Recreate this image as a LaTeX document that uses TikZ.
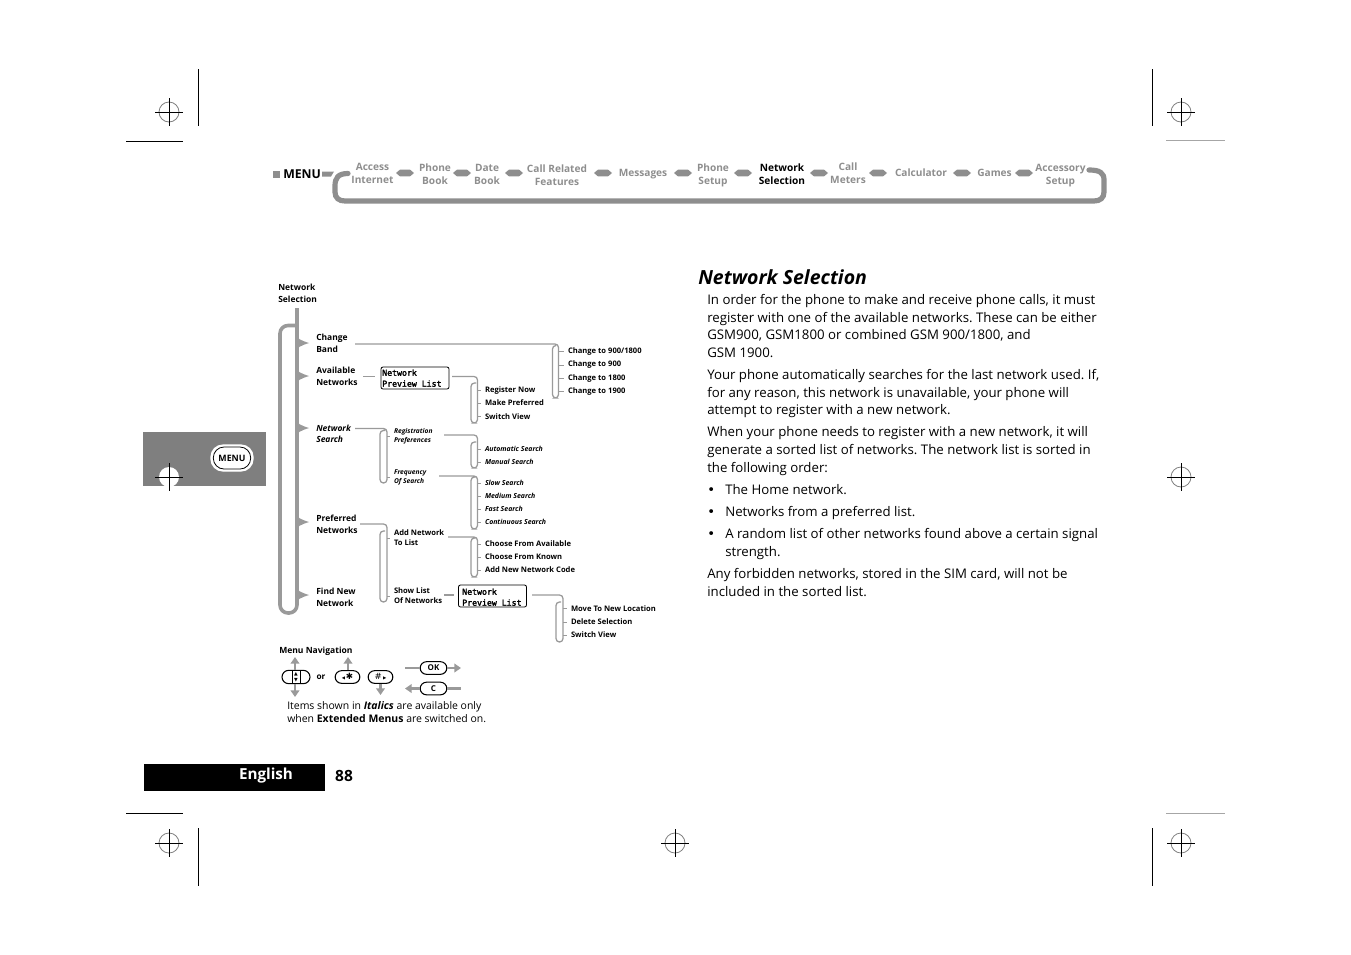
\documentclass[tikz,border=0pt]{standalone}
\usepackage{fontspec}
\usetikzlibrary{arrows.meta}
\setmainfont{Open Sans}
\newfontfamily\monof[FakeBold=2.5]{DejaVu Sans Mono}
\newfontfamily\symf{DejaVu Sans}
\definecolor{hg}{HTML}{8E8E8E}
\definecolor{tg}{HTML}{9A9A9A}
\definecolor{bk}{HTML}{7F7F7F}
\newcommand\st{\strut}
\frenchspacing
\tikzset{
  lab/.style={inner sep=0pt,anchor=west,align=left},
  hd/.style={inner sep=0pt,align=center,text=hg,font=\fontsize{7.6pt}{10pt}\selectfont\bfseries},
  lev1/.style={lab,font=\fontsize{6.35pt}{9.2pt}\selectfont\bfseries},
  lev1i/.style={lab,font=\fontsize{6.35pt}{8.4pt}\selectfont\bfseries\itshape},
  lev2/.style={lab,font=\fontsize{5.7pt}{8pt}\selectfont\bfseries,outer sep=3pt},
  lev2i/.style={lab,font=\fontsize{5.0pt}{7pt}\selectfont\bfseries\itshape,outer sep=3pt},
  leaf/.style={lab,font=\fontsize{5.7pt}{8pt}\selectfont\bfseries,outer sep=3pt},
  leafi/.style={lab,font=\fontsize{5.2pt}{8pt}\selectfont\bfseries\itshape,outer sep=3pt},
  body/.style={lab,font=\fontsize{9.93pt}{13.3pt}\selectfont},
  conn/.style={draw=tg,line width=0.95pt,rounded corners=2.6pt},
  tick/.style={draw=tg,line width=0.7pt},
  trunk/.style={draw=tg,line width=2.7pt,rounded corners=6pt},
  previewbox/.style={draw=black,line width=0.6pt,rounded corners=1.5pt,inner sep=0pt,minimum width=51pt,minimum height=16.5pt},
  previewtext/.style={lab,font=\monof\fontsize{6.15pt}{8.2pt}\selectfont},
  cross/.style={line width=0.75pt,draw=black},
  crossc/.style={line width=0.6pt,draw=gray},
  navarrow/.style={draw=tg,line width=1.9pt,-{Triangle[length=5pt,width=6.5pt]}},
  navline/.style={draw=tg,line width=1.9pt},
  key/.style={draw=black,line width=0.8pt,rounded corners=4.8pt,inner sep=0pt,minimum height=9.5pt,font=\fontsize{6pt}{7pt}\selectfont\bfseries},
  crop/.style={line width=0.75pt,draw=black},
  cropg/.style={line width=0.75pt,draw=gray!70},
}
\newcommand\crossmark[2]{%
  \draw[crossc] (#1,#2) circle[radius=10];
  \draw[cross] (#1-14,#2)--(#1+14,#2) (#1,#2-14)--(#1,#2+14);}
\newcommand\pill[1]{\fill[hg] (#1-9,173)--(#1-5,169.6)--(#1+5,169.6)--(#1+9,173)--(#1+5,176.4)--(#1-5,176.4)--cycle;}
\newcommand\chev[1]{\fill[tg] (296,#1-8) .. controls (297,#1-4.5) and (301,#1-2.5) .. (309,#1) .. controls (301,#1+2.5) and (297,#1+4.5) .. (296,#1+8) -- cycle;}
\begin{document}
\begin{tikzpicture}[x=0.75pt,y=-0.75pt]
\useasboundingbox (0,0) rectangle (1351,954);
% crop marks
\draw[crop] (198,69)--(198,126) (1152,69)--(1152,126) (198,828)--(198,886) (1152,828)--(1152,886)
  (126,141)--(183,141) (126,813)--(183,813);
\draw[cropg] (1166,140)--(1225,140) (1166,813)--(1225,813);
\crossmark{169}{112}\crossmark{1181}{112}\crossmark{1181}{477}\crossmark{169}{843}\crossmark{675}{843}\crossmark{1181}{843}
% side tab
\fill[bk] (143,432) rectangle (266,486);
\fill[white] (169,477) circle[radius=10];
\draw[cross] (155,477)--(183,477) (169,463)--(169,491);
\node[draw=white,line width=0.9pt,fill=white,rounded corners=9pt,minimum width=31.5pt,minimum height=19.5pt,inner sep=0pt] (sidebtn) at (232,458) {};
\node[draw=black,line width=0.6pt,rounded corners=8pt,minimum width=28pt,minimum height=16.5pt,inner sep=0pt,font=\fontsize{6.6pt}{8pt}\selectfont\bfseries] (sidemenu) at (232,458) {MENU};
% header
\fill[hg] (273,171) rectangle (280,177.5);
\node[inner sep=0pt,anchor=west,font=\fontsize{9.2pt}{11pt}\selectfont\bfseries] (menu) at (283,174) {MENU};
\fill[hg] (322,171.5) -- (334,171.5) -- (331,176.5) -- (322,176.5) -- cycle;
\draw[hg,line width=3.9pt,line cap=round] (348,173.5) .. controls (338,173.5) and (335,178) .. (335,186) -- (335,192) .. controls (335,198) and (339,201) .. (345,201) -- (1094,201) .. controls (1100,201) and (1104,198) .. (1104,192) -- (1104,180) .. controls (1104,173) and (1100,170) .. (1089,170);
\foreach \c in {405,462,514,603,683,743,819,878,962,1024}{\pill{\c}}
\node[hd] (h1) at (372.5,174.5) {\st Access\\\st Internet};
\node[hd] (h2) at (435,175) {\st Phone\\\st Book};
\node[hd] (h3) at (487,175) {\st Date\\\st Book};
\node[hd] (h4) at (557,176) {\st Call Related\\\st Features};
\node[hd] (h5) at (643,173.5) {\st Messages};
\node[hd] (h6) at (713,175) {\st Phone\\\st Setup};
\node[hd,text=black] (h7) at (782,175) {\st Network\\\st Selection};
\node[hd] (h8) at (848,174.5) {\st Call\\\st Meters};
\node[hd] (h9) at (921,173.5) {\st Calculator};
\node[hd] (h10) at (994.5,173.5) {\st Games};
\node[hd] (h11) at (1060.5,175) {\st Accessory\\\st Setup};
% page footer
\fill[black] (144,764) rectangle (325,791);
\node[inner sep=0pt,text=white,font=\fontsize{11.4pt}{13pt}\selectfont\bfseries] (lang) at (266,776) {English};
\node[inner sep=0pt,font=\fontsize{11.6pt}{13pt}\selectfont\bfseries] (pg) at (344,775.5) {88};
% tree labels
\node[lev1] (root) at (278,294) {\st Network\\\st Selection};
\node[lev1] (chg) at (316,344) {\st Change\\\st Band};
\node[lev1] (avail) at (316,377) {\st Available\\\st Networks};
\node[lev1i] (nsearch) at (316,434.5) {\st Network\\\st Search};
\node[lev1] (pref) at (316,525) {\st Preferred\\\st Networks};
\node[lev1] (find) at (316,598) {\st Find New\\\st Network};
% trunk
\coordinate (rootdown) at (297,308);
\coordinate (trunkend) at (297,598);
\draw[trunk,line cap=butt] (rootdown) -- (trunkend);
\draw[trunk] (297,325.5) -- (280,325.5) -- (280,613) -- (297,613) -- (trunkend);
\foreach \y in {343,376,428,522,595}{\chev{\y}}
% preview boxes
\node[previewbox] (box1) at (415,378) {};
\node[previewtext] (box1t) at (382,379) {\st Network\\\st Preview List};
\node[previewbox] (box2) at (492.5,596) {};
\node[previewtext] (box2t) at (462,598) {\st Network\\\st Preview List};
% second level
\node[lev2i] (reg) at (390,436) {\st Registration\\\st Preferences};
\node[lev2i] (freq) at (390,477) {\st Frequency\\\st Of Search};
\node[lev2] (addnet) at (390,538.5) {\st Add Network\\\st To List};
\node[lev2] (showl) at (390,596.5) {\st Show List\\\st Of Networks};
% leaves
\node[leaf] (a1) at (564,351.5) {Change to 900/1800};
\node[leaf] (a2) at (564,365) {Change to 900};
\node[leaf] (a3) at (564,378.5) {Change to 1800};
\node[leaf] (a4) at (564,391.5) {Change to 1900};
\node[leaf] (b1) at (481,390.5) {Register Now};
\node[leaf] (b2) at (481,403) {Make Preferred};
\node[leaf] (b3) at (481,416.5) {Switch View};
\node[leafi] (c1) at (481,449) {Automatic Search};
\node[leafi] (c2) at (481,462) {Manual Search};
\node[leafi] (d1) at (481,483) {Slow Search};
\node[leafi] (d2) at (481,496) {Medium Search};
\node[leafi] (d3) at (481,509) {Fast Search};
\node[leafi] (d4) at (481,522) {Continuous Search};
\node[leaf] (e1) at (481,544) {Choose From Available};
\node[leaf] (e2) at (481,557) {Choose From Known};
\node[leaf] (e3) at (481,570) {Add New Network Code};
\node[leaf] (f1) at (567,608.5) {Move To New Location};
\node[leaf] (f2) at (567,622) {Delete Selection};
\node[leaf] (f3) at (567,635) {Switch View};
% connector end points
\coordinate (chg-o) at (355,344);
\coordinate (avail-o) at (363,376.5);
\coordinate (box1-i) at (375,376.5);
\coordinate (box1-o) at (452,376.5);
\coordinate (ns-o) at (355,428.5);
\coordinate (reg-o) at (444,435);
\coordinate (freq-o) at (439,476);
\coordinate (pref-o) at (360,524);
\coordinate (add-o) at (448,537);
\coordinate (show-o) at (444,595);
\coordinate (box2-i) at (454,595);
\coordinate (box2-o) at (532,595);
% brackets
\draw[conn] (chg-o) -- (558.5,344) -- (558.5,398) -- (552.5,398) -- (552.5,345.5) -- (556,345.5);
\foreach \n in {a1,a2,a3,a4}{\draw[tick] (558.5,0 |- \n.west) -- (\n.west);}
\draw[conn] (avail-o) -- (box1-i);
\draw[conn] (box1-o) -- (477.5,376.5) -- (477.5,423) -- (471,423) -- (471,383) -- (476,383);
\foreach \n in {b1,b2,b3}{\draw[tick] (477.5,0 |- \n.west) -- (\n.west);}
\draw[conn] (ns-o) -- (387,428.5) -- (387,483) -- (380,483) -- (380,430.5) -- (385,430.5);
\foreach \n in {reg,freq}{\draw[tick] (387,0 |- \n.west) -- (\n.west);}
\draw[conn] (reg-o) -- (477.5,435) -- (477.5,468) -- (471,468) -- (471,442) -- (476,442);
\foreach \n in {c1,c2}{\draw[tick] (477.5,0 |- \n.west) -- (\n.west);}
\draw[conn] (freq-o) -- (477.5,476) -- (477.5,529) -- (471,529) -- (471,477) -- (476,477);
\foreach \n in {d1,d2,d3,d4}{\draw[tick] (477.5,0 |- \n.west) -- (\n.west);}
\draw[conn] (pref-o) -- (387,524) -- (387,602) -- (380,602) -- (380,531) -- (385,531);
\foreach \n in {addnet,showl}{\draw[tick] (387,0 |- \n.west) -- (\n.west);}
\draw[conn] (add-o) -- (477.5,537) -- (477.5,577) -- (471,577) -- (471,538) -- (476,538);
\foreach \n in {e1,e2,e3}{\draw[tick] (477.5,0 |- \n.west) -- (\n.west);}
\draw[conn] (show-o) -- (box2-i);
\draw[conn] (box2-o) -- (563,595) -- (563,642) -- (556,642) -- (556,602) -- (561,602);
\foreach \n in {f1,f2,f3}{\draw[tick] (563,0 |- \n.west) -- (\n.west);}
% navigation legend
\node[lab,font=\fontsize{6.4pt}{8pt}\selectfont\bfseries] (navt) at (279,651) {Menu Navigation};
\node[key,minimum width=21pt,minimum height=10pt,rounded corners=5pt] (k1) at (296,677) {};
\draw[line width=0.6pt] (292,671)--(292,683) (300,671)--(300,683);
\node[inner sep=0pt,font=\symf\fontsize{3.6pt}{4.2pt}\selectfont,align=center] (k1a) at (296,677) {▲\\▼};
\node[inner sep=0pt,font=\fontsize{6.2pt}{8pt}\selectfont\bfseries] (orw) at (321,677) {or};
\node[key,minimum width=18.5pt] (k2) at (347.5,677) {};
\node[inner sep=0pt,font=\symf\fontsize{3.2pt}{4pt}\selectfont] (k2a) at (347.5,677) {◀\,\fontsize{6.5pt}{7pt}\selectfont ✱};
\node[key,minimum width=18.5pt] (k3) at (380.5,677) {};
\node[inner sep=0pt,font=\symf\fontsize{6.5pt}{7pt}\selectfont] (k3a) at (380.5,677) {\#\,\fontsize{3.2pt}{4pt}\selectfont▶};
\node[key,minimum width=20pt] (ok) at (433.5,668) {OK};
\node[key,minimum width=20pt] (cc) at (433.5,688.5) {C};
\coordinate (u1) at (295,657); \coordinate (d1e) at (295,697);
\coordinate (u2) at (348,657); \coordinate (d3e) at (380.5,695);
\coordinate (oks) at (405,668); \coordinate (oke) at (461,668);
\coordinate (cs) at (461,688.5); \coordinate (ce) at (405,688.5);
\draw[navarrow] (k1.north -| u1) -- (u1);
\draw[navarrow] (k1.south -| d1e) -- (d1e);
\draw[navarrow] (k2.north -| u2) -- (u2);
\draw[navarrow] (k3.south -| d3e) -- (d3e);
\draw[navline] (oks) -- (ok.west);
\draw[navarrow] (ok.east) -- (oke);
\draw[navline] (cc.east) -- (cs);
\draw[navarrow] (cc.west) -- (ce);
\node[lab,font=\fontsize{7.85pt}{9.8pt}\selectfont] (note) at (287,713) {\st Items shown in \textbf{\textit{Italics}} are available only\\\st when \textbf{Extended Menus} are switched on.};
% body text
\node[inner sep=0pt,anchor=west,font=\fontsize{14.6pt}{15pt}\selectfont\bfseries\itshape] (title) at (698,277) {Network Selection};
\node[body] (p1) at (707,327.5) {\st In order for the phone to make and receive phone calls, it must\\\st register with one of the available networks. These can be either\\\st GSM900, GSM1800 or combined GSM 900/1800, and\\\st GSM 1900.};
\node[body] (p2) at (707,393.5) {\st Your phone automatically searches for the last network used. If,\\\st for any reason, this network is unavailable, your phone will\\\st attempt to register with a new network.};
\node[body] (p3) at (707,451) {\st When your phone needs to register with a new network, it will\\\st generate a sorted list of networks. The network list is sorted in\\\st the following order:};
\node[body,font=\symf\fontsize{9.93pt}{13.3pt}\selectfont] (bu1) at (707,491) {\st •};
\node[body] (t1) at (725,491) {\st The Home network.};
\node[body,font=\symf\fontsize{9.93pt}{13.3pt}\selectfont] (bu2) at (707,513) {\st •};
\node[body] (t2) at (725,513) {\st Networks from a preferred list.};
\node[body,font=\symf\fontsize{9.93pt}{13.3pt}\selectfont] (bu3) at (707,535) {\st •};
\node[body] (t3) at (725,544) {\st A random list of other networks found above a certain signal\\\st strength.};
\node[body] (p4) at (707,584) {\st Any forbidden networks, stored in the SIM card, will not be\\\st included in the sorted list.};
\end{tikzpicture}
\end{document}
